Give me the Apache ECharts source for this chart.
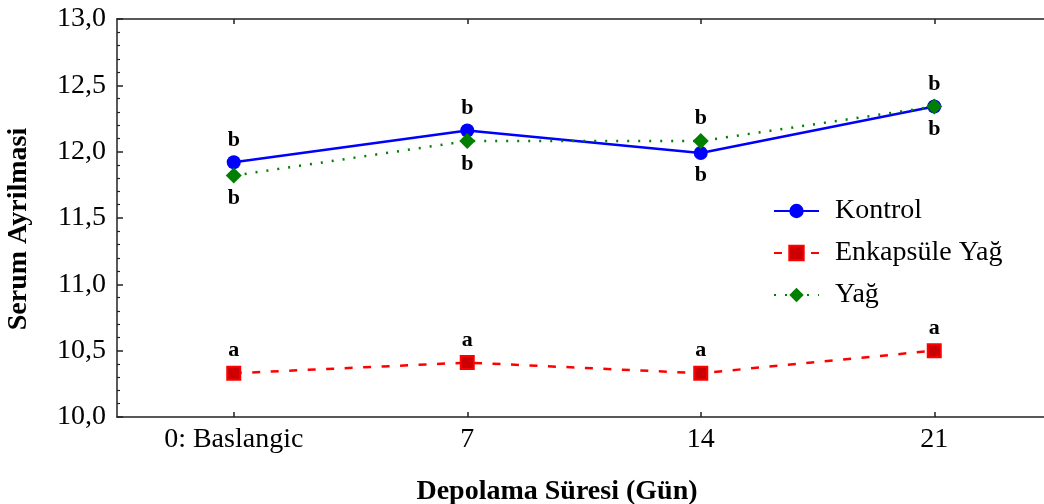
<!DOCTYPE html>
<html>
<head>
<meta charset="utf-8">
<script src="https://cdn.jsdelivr.net/npm/echarts@6/dist/echarts.min.js"></script>
<style>
  html, body { margin: 0; padding: 0; background: #ffffff; }
  #chart { width: 1044px; height: 504px; }
</style>
</head>
<body>
<div id="chart"></div>
<script>
// Storage days
const categories = ['0: Baslangic', '7', '14', '21'];

// Serum separation per treatment
const kontrol = [11.92, 12.16, 11.99, 12.34];
const enkapsule = [10.33, 10.41, 10.33, 10.50];
const yag = [11.82, 12.08, 12.08, 12.34];

// Significance letters
const kontrolLetters = ['b', 'b', 'b', 'b'];
const enkapsuleLetters = ['a', 'a', 'a', 'a'];
const yagLetters = ['b', 'b', 'b', 'b'];

// Y-axis ticks
const yMin = 10, yMax = 13, yStep = 0.5;

const SERIF = '"Liberation Serif", "Times New Roman", serif';

// Letter of the upper point goes above it, of the lower one below it;
// on a tie the first series keeps the top slot.
function withLetters(values, letters, other, yieldsTie) {
  return values.map((v, i) => {
    let pos = 'top';
    if (other && (v < other[i] || (yieldsTie && v === other[i]))) pos = 'bottom';
    return {
      value: v,
      label: { show: true, formatter: letters[i], position: pos }
    };
  });
}

const letterLabel = {
  fontFamily: SERIF,
  fontWeight: 'bold',
  fontSize: 22,
  color: '#000',
  distance: 4
};

const axisLine = { show: true, lineStyle: { color: '#222', width: 1.5 } };
const tickStyle = { color: '#222', width: 1.5 };

const chart = echarts.init(document.getElementById('chart'));
chart.setOption({
  animation: false,
  backgroundColor: '#fff',
  grid: { left: 117, top: 19, right: -7, bottom: 87, containLabel: false, outerBoundsMode: 'none' },
  legend: {
    left: 768,
    top: 192,
    padding: 5,
    orient: 'vertical',
    itemWidth: 45,
    itemHeight: 18,
    itemGap: 14,
    textStyle: { fontFamily: SERIF, fontSize: 28, color: '#000', lineHeight: 28, padding: [0, 0, 0, 11] },
    data: ['Kontrol', 'Enkapsüle Yağ', 'Yağ']
  },
  xAxis: [{
    type: 'category',
    data: categories,
    boundaryGap: true,
    axisLine: axisLine,
    axisTick: { show: true, inside: true, alignWithLabel: true, length: 5, lineStyle: tickStyle },
    axisLabel: { fontFamily: SERIF, fontSize: 28, color: '#000', margin: 9 },
    splitLine: { show: false },
    name: 'Depolama Süresi (Gün)',
    nameLocation: 'middle',
    nameGap: 61,
    nameTextStyle: { fontFamily: SERIF, fontWeight: 'bold', fontSize: 28, color: '#000', padding: [0, 54, 0, 0] }
  }, {
    type: 'category',
    data: categories,
    position: 'top',
    boundaryGap: true,
    axisLine: axisLine,
    axisTick: { show: true, inside: true, alignWithLabel: true, length: 5, lineStyle: tickStyle },
    axisLabel: { show: false },
    splitLine: { show: false }
  }],
  yAxis: {
    type: 'value',
    min: yMin,
    max: yMax,
    interval: yStep,
    axisLine: axisLine,
    axisTick: { show: true, inside: true, length: 6, lineStyle: tickStyle },
    minorTick: { show: true, splitNumber: 5, length: 3, lineStyle: { color: '#222', width: 1.2 } },
    axisLabel: {
      fontFamily: SERIF, fontSize: 28, color: '#000', margin: 11,
      formatter: v => v.toFixed(1).replace('.', ',')
    },
    splitLine: { show: false },
    name: 'Serum Ayrilmasi',
    nameLocation: 'middle',
    nameGap: 84,
    nameRotate: 90,
    nameTextStyle: { fontFamily: SERIF, fontWeight: 'bold', fontSize: 28, color: '#000', padding: [0, 22, 0, 0] }
  },
  series: [{
    name: 'Kontrol',
    type: 'line',
    data: withLetters(kontrol, kontrolLetters, yag, false),
    symbol: 'circle',
    symbolSize: 14,
    itemStyle: { color: '#0000ff' },
    lineStyle: { color: '#0000ff', width: 2.5, type: 'solid' },
    label: letterLabel,
    z: 2
  }, {
    name: 'Enkapsüle Yağ',
    type: 'line',
    data: withLetters(enkapsule, enkapsuleLetters, null, false),
    symbol: 'rect',
    symbolSize: 13,
    itemStyle: { color: '#cc0000', borderColor: '#ff0000', borderWidth: 2 },
    lineStyle: { color: '#ff0000', width: 2.5, type: [8, 10.5] },
    label: letterLabel,
    z: 3
  }, {
    name: 'Yağ',
    type: 'line',
    data: withLetters(yag, yagLetters, kontrol, true),
    symbol: 'diamond',
    symbolSize: 16,
    itemStyle: { color: '#007f00' },
    lineStyle: { color: '#008000', width: 2.5, type: [2, 9] },
    label: letterLabel,
    z: 4
  }]
});
</script>
</body>
</html>
